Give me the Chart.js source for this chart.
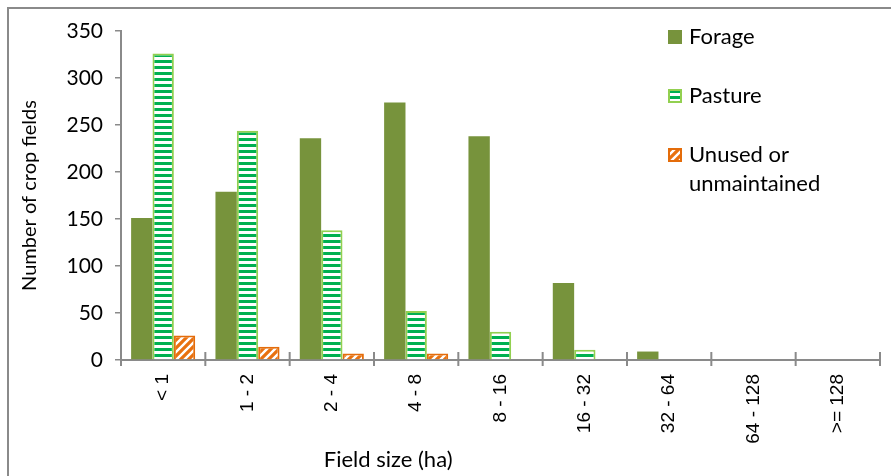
<!DOCTYPE html>
<html>
<head>
<meta charset="utf-8">
<script src="https://cdn.jsdelivr.net/npm/chart.js@4.4.1/dist/chart.umd.min.js"></script>
<style>
  html, body { margin: 0; padding: 0; background: #ffffff; }
  #wrap { width: 891px; height: 476px; position: relative; }
</style>
</head>
<body>
<div id="wrap"><canvas id="c" width="891" height="476"></canvas></div>
<script>
// Field size classes (ha)
const categories = ['< 1', '1 - 2', '2 - 4', '4 - 8', '8 - 16', '16 - 32', '32 - 64', '64 - 128', '>= 128'];

// Number of crop fields per land use type
const forage  = [151, 179, 236, 274, 238, 82, 9, 0, 0];
const pasture = [326, 244, 138, 52, 30, 11, 0, 0, 0];
const unused  = [26, 14, 7, 7, 0, 0, 0, 0, 0];

const seriesNames = ['Forage', 'Pasture', ['Unused or', 'unmaintained']];

const yTicks = [0, 50, 100, 150, 200, 250, 300, 350];

const LABEL_FONT = 'Lato, "Open Sans", sans-serif';

// Horizontal green stripes on white
function stripePattern() {
  const p = document.createElement('canvas');
  p.width = 6; p.height = 6;
  const g = p.getContext('2d');
  g.fillStyle = '#ffffff';
  g.fillRect(0, 0, 6, 6);
  g.fillStyle = '#00b050';
  g.fillRect(0, 0, 6, 3);
  return g.createPattern(p, 'repeat');
}

// Orange with white upward diagonals
function diagPattern() {
  const s = 8;
  const p = document.createElement('canvas');
  p.width = s; p.height = s;
  const g = p.getContext('2d');
  g.fillStyle = '#e8710f';
  g.fillRect(0, 0, s, s);
  g.strokeStyle = '#ffffff';
  g.lineWidth = 2.4;
  g.beginPath();
  for (let k = -1; k <= 1; k++) {
    g.moveTo(k * s - 1, s + 1);
    g.lineTo(k * s + s + 1, -1);
  }
  g.stroke();
  return g.createPattern(p, 'repeat');
}

const pastureFill = stripePattern();
const unusedFill = diagPattern();

// Outer frame of the chart
const framePlugin = {
  id: 'frame',
  beforeDraw(chart) {
    const ctx = chart.ctx;
    ctx.save();
    ctx.fillStyle = '#ffffff';
    ctx.fillRect(0, 0, chart.width, chart.height);
    ctx.strokeStyle = '#8a8a8a';
    ctx.lineWidth = 2;
    ctx.strokeRect(8, 8, chart.width + 20, chart.height + 20);
    ctx.restore();
  }
};

// Category tick marks crossing the x axis, and the x axis title
const xAxisExtras = {
  id: 'xAxisExtras',
  afterDraw(chart) {
    const ctx = chart.ctx;
    const x = chart.scales.x;
    const area = chart.chartArea;
    const step = x.getPixelForValue(1) - x.getPixelForValue(0);
    ctx.save();
    ctx.strokeStyle = '#8a8a8a';
    ctx.lineWidth = 2;
    ctx.beginPath();
    for (let i = 0; i <= categories.length; i++) {
      const px = x.getPixelForValue(0) - step / 2 + i * step;
      ctx.moveTo(px, area.bottom - 8);
      ctx.lineTo(px, area.bottom + 6);
    }
    ctx.stroke();
    ctx.fillStyle = '#000000';
    ctx.font = '22px ' + LABEL_FONT;
    ctx.textAlign = 'center';
    ctx.textBaseline = 'middle';
    ctx.fillText('Field size (ha)', area.left + (area.right - area.left) * 0.352, 460);
    ctx.restore();
  }
};

// Legend drawn inside the plot, upper right
const insideLegend = {
  id: 'insideLegend',
  afterDraw(chart) {
    const ctx = chart.ctx;
    const area = chart.chartArea;
    const x0 = area.right - 212;
    const rows = [37, 96, 155];
    ctx.save();
    ctx.font = '22px ' + LABEL_FONT;
    ctx.textBaseline = 'middle';
    ctx.textAlign = 'left';
    chart.data.datasets.forEach((ds, i) => {
      const cy = rows[i];
      const box = 14;
      ctx.fillStyle = ds.backgroundColor;
      ctx.fillRect(x0, cy - box / 2, box, box);
      if (ds.borderWidth) {
        ctx.strokeStyle = ds.borderColor;
        ctx.lineWidth = 2;
        ctx.strokeRect(x0 + 1, cy - box / 2 + 1, box - 2, box - 2);
      }
      ctx.fillStyle = '#000000';
      const lines = Array.isArray(ds.label) ? ds.label : [ds.label];
      lines.forEach((t, j) => ctx.fillText(t, x0 + 21, cy + j * 29));
    });
    ctx.restore();
  }
};

new Chart(document.getElementById('c'), {
  type: 'bar',
  data: {
    labels: categories,
    datasets: [
      { label: seriesNames[0], data: forage, backgroundColor: '#77933c', borderColor: '#8fa85a', borderWidth: 0 },
      { label: seriesNames[1], data: pasture, backgroundColor: pastureFill, borderColor: '#92d050', borderWidth: 2 },
      { label: seriesNames[2], data: unused, backgroundColor: unusedFill, borderColor: '#e46c0a', borderWidth: 2 }
    ]
  },
  options: {
    responsive: false,
    animation: false,
    devicePixelRatio: 1,
    layout: { padding: { top: 31, right: 11, left: 18, bottom: 0 } },
    datasets: { bar: { categoryPercentage: 0.76, barPercentage: 1.0 } },
    plugins: {
      legend: { display: false },
      tooltip: { enabled: false },
      title: { display: false }
    },
    scales: {
      x: {
        offset: true,
        grid: { display: true, drawOnChartArea: false, drawTicks: true, tickLength: 6, color: 'rgba(0,0,0,0)', offset: true },
        border: { display: true, color: '#8a8a8a', width: 2 },
        ticks: {
          color: '#000000',
          font: { family: '"Liberation Sans", Arial, sans-serif', size: 19 },
          maxRotation: 90, minRotation: 90, padding: 8, autoSkip: false
        },
        afterFit(s) { s.height = 116; }
      },
      y: {
        min: 0, max: 350,
        afterBuildTicks(s) { s.ticks = yTicks.map(v => ({ value: v })); },
        grid: { display: true, drawOnChartArea: false, drawTicks: true, tickLength: 6, color: '#8a8a8a', lineWidth: 1.5 },
        border: { display: true, color: '#8a8a8a', width: 2 },
        ticks: {
          color: '#000000',
          font: { family: LABEL_FONT, size: 21 },
          padding: 12
        },
        title: {
          display: true,
          text: 'Number of crop fields',
          color: '#000000',
          font: { family: LABEL_FONT, size: 20 },
          padding: { top: 0, bottom: 0 }
        },
        afterFit(s) { s.width = 103; }
      }
    }
  },
  plugins: [framePlugin, xAxisExtras, insideLegend]
});
</script>
</body>
</html>
